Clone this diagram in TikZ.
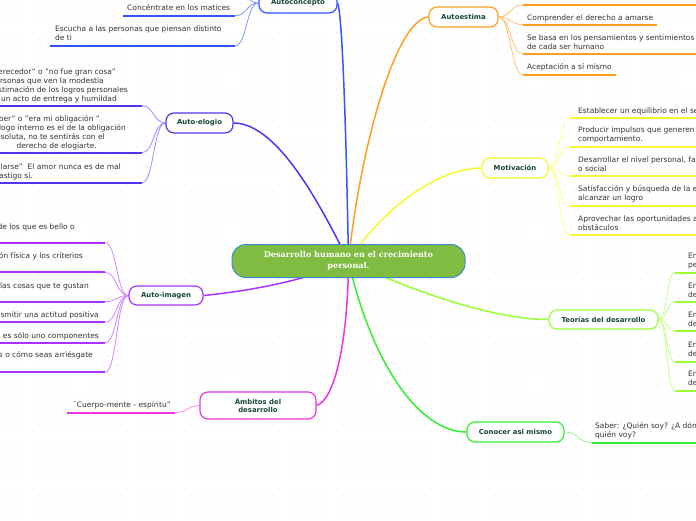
\documentclass[tikz,border=0pt]{standalone}
\usepackage{fontspec}
\setmainfont{DejaVu Sans}
\newfontfamily\cserif{DejaVu Serif}
\pgfdeclarelayer{dots}
\pgfdeclarelayer{links}
\pgfsetlayers{dots,links,main}
\definecolor{rootfill}{HTML}{80BC42}
\definecolor{rootline}{HTML}{3B8BC9}
\definecolor{nodetext}{HTML}{17463A}
\definecolor{leaftext}{HTML}{333333}
\definecolor{dotc}{HTML}{E2E2E2}
\definecolor{cBlue}{HTML}{3355FF}
\definecolor{lBlue}{HTML}{7F9BFF}
\definecolor{cViolet}{HTML}{5533EE}
\definecolor{lViolet}{HTML}{9B8BFF}
\definecolor{cPurple}{HTML}{AA33FF}
\definecolor{lPurple}{HTML}{CC88FF}
\definecolor{cMagenta}{HTML}{EE33DD}
\definecolor{lMagenta}{HTML}{FF8CEF}
\definecolor{cOrange}{HTML}{FF9F1F}
\definecolor{lOrange}{HTML}{FFC473}
\definecolor{cYellow}{HTML}{F8F832}
\definecolor{lYellow}{HTML}{FFFF88}
\definecolor{cLime}{HTML}{99FF33}
\definecolor{lLime}{HTML}{C4FF8A}
\definecolor{cGreen}{HTML}{33EE33}
\definecolor{lGreen}{HTML}{8CFF8C}
\tikzset{
  rootnode/.style={rectangle, rounded corners=14pt, fill=rootfill, draw=rootline, line width=1pt,
    minimum width=233pt, minimum height=33pt, inner sep=0pt, text=white, align=center,
    font=\cserif\bfseries\fontsize{8.1}{11.5}\selectfont},
  branch/.style={rectangle, rounded corners=8pt, fill=white, line width=1.2pt, inner sep=0pt,
    text=nodetext, align=center, font=\bfseries\fontsize{6.9}{8.5}\selectfont},
  leaf/.style={inner sep=0pt, text=leaftext, align=left, font=\fontsize{7.5}{9}\selectfont},
  uline/.style={line width=2pt},
  twig/.style={line width=0.8pt},
  trunk/.style={line width=1.5pt},
}
\begin{document}
\begin{tikzpicture}[x=1pt,y=-1pt]
\useasboundingbox (0,0) rectangle (696,520);
\begin{pgfonlayer}{dots}
\fill[white] (0,0) rectangle (696,520);
\foreach \x in {4,13.5,...,696} {\foreach \y in {4,13.5,...,520} {\fill[dotc] (\x,\y) circle[radius=0.7pt];}}
\end{pgfonlayer}

% central node
\node[rootnode] (root) at (348.5,261) {Desarrollo humano en el crecimiento\\personal.};

% branch nodes
\node[branch, draw=cBlue, minimum width=78pt, minimum height=20pt] (aconc) at (298,3) {Autoconcepto};
\node[branch, draw=cViolet, minimum width=67pt, minimum height=20pt] (aelog) at (199.5,123) {Auto-elogio};
\node[branch, draw=cPurple, minimum width=74pt, minimum height=19pt] (aimg) at (166,295.5) {Auto-imagen};
\node[branch, draw=cMagenta, minimum width=116pt, minimum height=27pt] (ambit) at (258,405.5) {Ámbitos del\\desarrollo};
\node[branch, draw=cOrange, minimum width=69pt, minimum height=20pt] (aest) at (463.5,17) {Autoestima};
\node[branch, draw=cYellow, minimum width=66pt, minimum height=20pt] (motiv) at (515,168) {Motivación};
\node[branch, draw=cLime, minimum width=109pt, minimum height=19pt] (teor) at (603.5,319.5) {Teorías del desarrollo};
\node[branch, draw=cGreen, minimum width=97pt, minimum height=20pt] (conoc) at (515.5,432) {Conocer asi mismo};

% Autoconcepto leaves
\coordinate (ac0r) at (236,-10);
\node[leaf, anchor=base west] (ac1) at (127,10.7) {Concéntrate en los matices};
\coordinate (ac1l) at (123,15.7); \coordinate (ac1r) at (235,15.7);
\node[leaf, anchor=base west] (ac2) at (55,40.7) {Escucha a las personas que piensan distinto\\de ti};
\coordinate (ac2l) at (50,45.7); \coordinate (ac2r) at (235,45.7);

% Auto-elogio leaves
\node[leaf, anchor=base east] (e1a) at (116,74) {erecedor" o "no fue gran cosa"};
\node[leaf, anchor=base east] (e1b) at (104,83) {rsonas que ven la modestia};
\node[leaf, anchor=base east] (e1c) at (128,92) {stimación de los logros personales};
\node[leaf, anchor=base east] (e1d) at (117,101) {un acto de entrega y humildad};
\coordinate (e1l) at (-5,105.7); \coordinate (e1r) at (142,105.7);
\node[leaf, anchor=base east] (e2a) at (100,121) {ber" o "era mi obligación "};
\node[leaf, anchor=base east] (e2b) at (126,130) {logo interno es el de la obligación};
\node[leaf, anchor=base east] (e2c) at (105,139) {soluta, no te sentirás con el};
\node[leaf, anchor=base east] (e2d) at (97,148) {derecho de elogiarte.};
\coordinate (e2l) at (-5,152.7); \coordinate (e2r) at (142,152.7);
\node[leaf, anchor=base east] (e3a) at (121,169) {larse" \ El amor nunca es de mal};
\node[leaf, anchor=base east] (e3b) at (33,178) {astigo sí.};
\coordinate (e3l) at (-5,182.7); \coordinate (e3r) at (142,182.7);

% Auto-imagen leaves
\node[leaf, anchor=base east] (i1) at (75,229) {de los que es bello o};
\coordinate (i1l) at (-5,242.7); \coordinate (i1r) at (105,242.7);
\node[leaf, anchor=base east] (i2) at (83,258) {ón física y los criterios};
\coordinate (i2l) at (-5,272.3); \coordinate (i2r) at (105,272.3);
\node[leaf, anchor=base east] (i3) at (89,288) {las cosas que te gustan};
\coordinate (i3l) at (-5,301.7); \coordinate (i3r) at (105,301.7);
\node[leaf, anchor=base east] (i4) at (99,317.3) {asmitir una actitud positiva};
\coordinate (i4l) at (-5,322.3); \coordinate (i4r) at (105,322.3);
\node[leaf, anchor=base east] (i5) at (99,338) {es sólo uno componentes};
\coordinate (i5l) at (-5,342.7); \coordinate (i5r) at (105,342.7);
\node[leaf, anchor=base east] (i6) at (93,357.5) {s o cómo seas arriésgate};
\coordinate (i6l) at (-5,372.3); \coordinate (i6r) at (105,372.3);

% Ambitos leaf
\node[leaf, anchor=base west] (am1) at (73,407.7) {¨Cuerpo-mente - espíritu"};
\coordinate (am1l) at (67,412.7); \coordinate (am1r) at (175,412.7);

% Autoestima leaves
\coordinate (es0l) at (523,4.7); \coordinate (es0r) at (700,4.7);
\node[leaf, anchor=base west] (es1) at (527,20) {Comprender el derecho a amarse};
\coordinate (es1l) at (523,24.7); \coordinate (es1r) at (657,24.7);
\node[leaf, anchor=base west] (es2) at (527,49) {Se basa en los pensamientos y sentimientos\\de cada ser humano};
\coordinate (es2l) at (523,54); \coordinate (es2r) at (700,54);
\node[leaf, anchor=base west] (es3) at (527,69.7) {Aceptación a sí mismo};
\coordinate (es3l) at (523,74.7); \coordinate (es3r) at (616,74.7);

% Motivacion leaves
\node[leaf, anchor=base west] (mo1) at (578,113) {Establecer un equilibrio en el se};
\coordinate (mo1l) at (570,118); \coordinate (mo1r) at (700,118);
\node[leaf, anchor=base west] (mo2) at (578,141.7) {Producir impulsos que generen\\comportamiento.};
\coordinate (mo2l) at (570,146.7); \coordinate (mo2r) at (700,146.7);
\node[leaf, anchor=base west] (mo3) at (578,171) {Desarrollar el nivel personal, fa\\o social};
\coordinate (mo3l) at (570,176); \coordinate (mo3r) at (700,176);
\node[leaf, anchor=base west] (mo4) at (578,200.7) {Satisfacción y búsqueda de la e\\alcanzar un logro};
\coordinate (mo4l) at (570,205.7); \coordinate (mo4r) at (700,205.7);
\node[leaf, anchor=base west] (mo5) at (578,230) {Aprovechar las oportunidades a\\obstáculos};
\coordinate (mo5l) at (570,235); \coordinate (mo5r) at (700,235);

% Teorias leaves
\node[leaf, anchor=base west] (t1) at (688,267.7) {En\\pe};
\coordinate (t1l) at (675,272.7); \coordinate (t1r) at (700,272.7);
\node[leaf, anchor=base west] (t2) at (688,297.3) {En\\de};
\coordinate (t2l) at (675,302.3); \coordinate (t2r) at (700,302.3);
\node[leaf, anchor=base west] (t3) at (688,326) {En\\de};
\coordinate (t3l) at (675,331); \coordinate (t3r) at (700,331);
\node[leaf, anchor=base west] (t4) at (688,356.7) {En\\de};
\coordinate (t4l) at (675,361.7); \coordinate (t4r) at (700,361.7);
\node[leaf, anchor=base west] (t5) at (688,385.7) {En\\de};
\coordinate (t5l) at (675,390.7); \coordinate (t5r) at (700,390.7);

% Conocer leaf
\node[leaf, anchor=base west] (co1) at (595,437.7) {Saber: ¿Quién soy? ¿A dón\\quién voy?};
\coordinate (co1l) at (592,442.7); \coordinate (co1r) at (700,442.7);

\begin{pgfonlayer}{links}
% trunks
\draw[trunk, cBlue] (root.center) .. controls (346,120) and (342,12) .. (aconc.east);
\draw[trunk, cViolet] (root.center) .. controls (325,215) and (280,123) .. (aelog.east);
\draw[trunk, cPurple] (root.center) .. controls (305,282) and (240,292) .. (aimg.east);
\draw[trunk, cMagenta] (root.center) .. controls (348,340) and (335,400) .. (ambit.east);
\draw[trunk, cOrange] (root.center) .. controls (360,150) and (395,20) .. (aest.west);
\draw[trunk, cYellow] (root.center) .. controls (385,205) and (440,168) .. (motiv.west);
\draw[trunk, cLime] (root.center) .. controls (420,295) and (500,320) .. (teor.west);
\draw[trunk, cGreen] (root.center) .. controls (372,365) and (420,432) .. (conoc.west);

% Autoconcepto twigs
\draw[twig, lBlue] (aconc.west) .. controls +(-12,0) and +(10,0) .. (ac0r);
\foreach \k in {1,2} {
  \draw[twig, lBlue] (aconc.west) .. controls +(-12,0) and +(12,0) .. (ac\k r);
  \draw[uline, cBlue] (ac\k l) -- (ac\k r);
}
% Auto-elogio twigs
\foreach \k in {1,2,3} {
  \draw[twig, lViolet] (aelog.west) .. controls +(-12,0) and +(12,0) .. (e\k r);
  \draw[uline, cViolet] (e\k l) -- (e\k r);
}
% Auto-imagen twigs
\foreach \k in {1,...,6} {
  \draw[twig, lPurple] (aimg.west) .. controls +(-12,0) and +(12,0) .. (i\k r);
  \draw[uline, cPurple] (i\k l) -- (i\k r);
}
% Ambitos twig
\draw[twig, lMagenta] (ambit.west) .. controls +(-12,0) and +(12,0) .. (am1r);
\draw[uline, cMagenta] (am1l) -- (am1r);
% Autoestima twigs
\foreach \k in {0,...,3} {
  \draw[twig, lOrange] (aest.east) .. controls +(12,0) and +(-12,0) .. (es\k l);
  \draw[uline, cOrange] (es\k l) -- (es\k r);
}
% Motivacion twigs
\foreach \k in {1,...,5} {
  \draw[twig, lYellow] (motiv.east) .. controls +(12,0) and +(-12,0) .. (mo\k l);
  \draw[uline, cYellow] (mo\k l) -- (mo\k r);
}
% Teorias twigs
\foreach \k in {1,...,5} {
  \draw[twig, lLime] (teor.east) .. controls +(9,0) and +(-9,0) .. (t\k l);
  \draw[uline, cLime] (t\k l) -- (t\k r);
}
% Conocer twig
\draw[twig, lGreen] (conoc.east) .. controls +(14,0) and +(-14,0) .. (co1l);
\draw[uline, cGreen] (co1l) -- (co1r);
\end{pgfonlayer}
\end{tikzpicture}
\end{document}
